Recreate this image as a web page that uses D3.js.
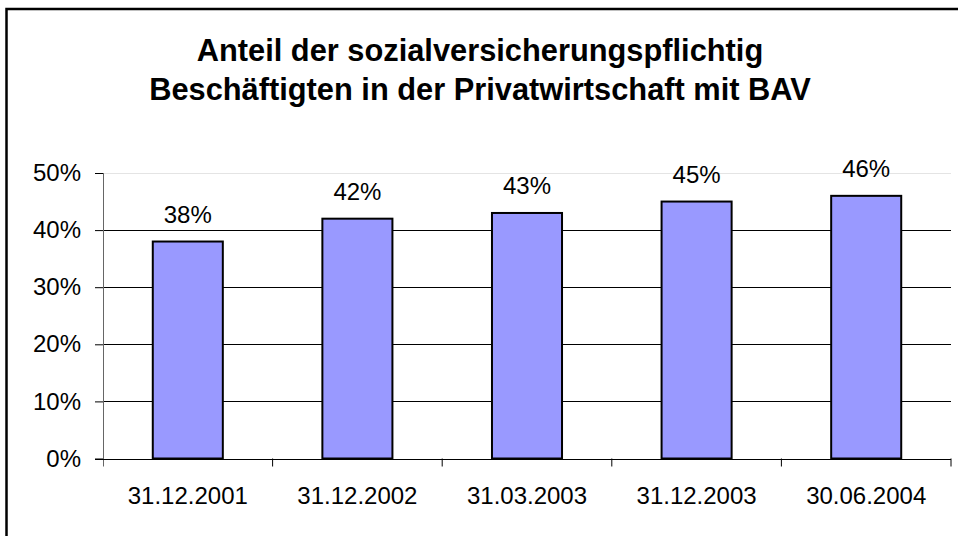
<!DOCTYPE html>
<html>
<head>
<meta charset="utf-8">
<script src="https://cdn.jsdelivr.net/npm/d3@7"></script>
<style>
  body { margin: 0; background: #fff; }
  text { font-family: "Liberation Sans", Arial, sans-serif; fill: #000; }
</style>
</head>
<body>
<div id="chart"></div>
<script>
// Data
const categories = ['31.12.2001', '31.12.2002', '31.03.2003', '31.12.2003', '30.06.2004'];
const values = [38, 42, 43, 45, 46];
const yTicks = [0, 10, 20, 30, 40, 50];
const titleLines = ['Anteil der sozialversicherungspflichtig', 'Beschäftigten in der Privatwirtschaft mit BAV'];

const W = 958, H = 536;
const plot = {left: 103, right: 951, top: 173, bottom: 458.5};

const svg = d3.select('#chart')
  .append('svg')
  .attr('width', W)
  .attr('height', H);

svg.append('rect')
  .attr('width', W).attr('height', H)
  .attr('fill', '#fff');

// outer frame (cut off on the right and bottom)
svg.append('rect')
  .attr('x', 6.5).attr('y', 9)
  .attr('width', W + 20).attr('height', H + 20)
  .attr('fill', 'none')
  .attr('stroke', '#000')
  .attr('stroke-width', 2.5);

// Title
svg.append('text')
  .attr('text-anchor', 'middle')
  .attr('font-weight', 'bold')
  .attr('font-size', 30.8)
  .selectAll('tspan')
  .data(titleLines)
  .enter()
  .append('tspan')
  .attr('x', 480)
  .attr('y', (d, i) => 61 + i * 39)
  .text(d => d);

// Scales
const x = d3.scaleBand()
  .domain(categories)
  .range([plot.left, plot.right])
  .paddingInner(0.587)
  .paddingOuter(0.2935);

const y = d3.scaleLinear()
  .domain([0, 50])
  .range([plot.bottom, plot.top]);

// Gridlines
svg.append('g')
  .selectAll('line')
  .data(yTicks.filter(d => d > 0))
  .enter()
  .append('line')
  .attr('x1', plot.left).attr('x2', plot.right)
  .attr('y1', d => Math.round(y(d)) + 0.5)
  .attr('y2', d => Math.round(y(d)) + 0.5)
  .attr('stroke', d => d === 50 ? '#e4e4e4' : '#000')
  .attr('stroke-width', 1);

// Y axis
const yAxis = svg.append('g')
  .attr('transform', `translate(${plot.left},0)`)
  .call(d3.axisLeft(y).tickValues(yTicks).tickFormat(d => d + '%').tickSize(8).tickPadding(14).tickSizeOuter(0));
yAxis.select('.domain').remove();
yAxis.selectAll('.tick line').attr('stroke', '#000');
yAxis.selectAll('text')
  .attr('font-size', 24)
  .attr('font-family', '"Liberation Sans", Arial, sans-serif')
  .attr('fill', '#000');

svg.append('line')
  .attr('x1', plot.left + 0.5).attr('x2', plot.left + 0.5)
  .attr('y1', plot.top).attr('y2', plot.bottom + 8)
  .attr('stroke', '#666');

// Bars
svg.append('g')
  .selectAll('rect')
  .data(values)
  .enter()
  .append('rect')
  .attr('x', (d, i) => x(categories[i]))
  .attr('y', d => y(d))
  .attr('width', x.bandwidth())
  .attr('height', d => y(0) - y(d))
  .attr('fill', '#9999ff')
  .attr('stroke', '#000')
  .attr('stroke-width', 2);

// Value labels
svg.append('g')
  .selectAll('text')
  .data(values)
  .enter()
  .append('text')
  .attr('x', (d, i) => x(categories[i]) + x.bandwidth() / 2)
  .attr('y', d => y(d) - 19)
  .attr('text-anchor', 'middle')
  .attr('font-size', 24)
  .text(d => d + '%');

// X axis
const boundaries = categories.map(c => x(c) - x.step() * x.paddingOuter()).concat([plot.right]);
svg.append('line')
  .attr('x1', plot.left - 8).attr('x2', plot.right)
  .attr('y1', Math.round(y(0)) + 0.5).attr('y2', Math.round(y(0)) + 0.5)
  .attr('stroke', '#000');
svg.append('g')
  .selectAll('line')
  .data(boundaries.slice(1))
  .enter()
  .append('line')
  .attr('x1', d => d).attr('x2', d => d)
  .attr('y1', y(0)).attr('y2', y(0) + 8)
  .attr('stroke', '#000');

svg.append('g')
  .selectAll('text')
  .data(categories)
  .enter()
  .append('text')
  .attr('x', d => x(d) + x.bandwidth() / 2)
  .attr('y', 504)
  .attr('text-anchor', 'middle')
  .attr('font-size', 24)
  .text(d => d);
</script>
</body>
</html>
